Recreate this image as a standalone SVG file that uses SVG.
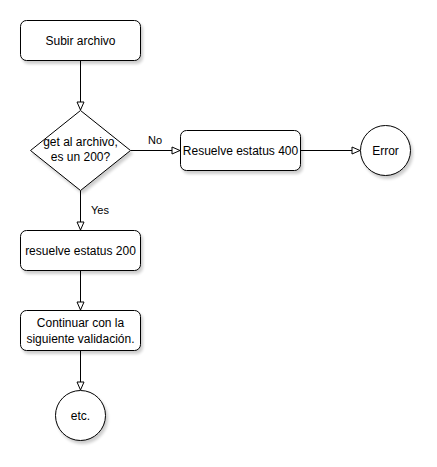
<svg xmlns="http://www.w3.org/2000/svg" width="437" height="467" viewBox="0 0 437 467">
<defs>
<filter id="sh" x="-20%" y="-20%" width="150%" height="150%">
<feGaussianBlur in="SourceAlpha" stdDeviation="1.5"/>
<feOffset dx="2" dy="3" result="b"/>
<feComponentTransfer><feFuncA type="linear" slope="0.2"/></feComponentTransfer>
<feMerge><feMergeNode/><feMergeNode in="SourceGraphic"/></feMerge>
</filter>
<marker id="arr" markerWidth="10" markerHeight="10" refX="9" refY="5" orient="auto" markerUnits="userSpaceOnUse">
<path d="M1,1.5 L9,5 L1,8.5 Z" fill="#fff" stroke="#000" stroke-width="1"/>
</marker>
</defs>
<style>
.n{fill:#fff;stroke:#000;stroke-width:1;filter:url(#sh)}
.t{font-family:"Liberation Sans",Arial,sans-serif;font-size:12px;fill:#000;text-anchor:middle}
.e{fill:none;stroke:#000;stroke-width:1;marker-end:url(#arr)}
.l{font-family:"Liberation Sans",Arial,sans-serif;font-size:11px;fill:#000;text-anchor:middle}
</style>
<rect width="437" height="467" fill="#fff"/>
<g id="connectors">
<path class="e" d="M80.5,60.5 L80.5,110"/>
<path class="e" d="M130.5,150.5 L180,150.5"/>
<path class="e" d="M300.5,150.5 L360,150.5"/>
<path class="e" d="M80.5,190.5 L80.5,230"/>
<path class="e" d="M80.5,270.5 L80.5,310"/>
<path class="e" d="M80.5,350.5 L80.5,390"/>
<text class="l" x="155" y="144">No</text>
<text class="l" x="100" y="214">Yes</text>
</g>
<g id="subir">
<rect class="n" x="20.5" y="20.5" width="120" height="40" rx="6"/>
<text class="t" x="80.5" y="44.5">Subir archivo</text>
</g>
<g id="decision">
<path class="n" d="M80.5,110.5 L130.5,150.5 L80.5,190.5 L30.5,150.5 Z"/>
<text class="t" x="80.5" y="146">get al archivo,</text>
<text class="t" x="80.5" y="161">es un 200?</text>
</g>
<g id="estatus400">
<rect class="n" x="180.5" y="130.5" width="120" height="40" rx="6"/>
<text class="t" x="240.5" y="154.5">Resuelve estatus 400</text>
</g>
<g id="error">
<circle class="n" cx="385.5" cy="150.5" r="25"/>
<text class="t" x="385.5" y="154.5">Error</text>
</g>
<g id="estatus200">
<rect class="n" x="20.5" y="230.5" width="120" height="40" rx="6"/>
<text class="t" x="80.5" y="254.5">resuelve estatus 200</text>
</g>
<g id="continuar">
<rect class="n" x="20.5" y="310.5" width="120" height="40" rx="6"/>
<text class="t" x="80.5" y="327">Continuar con la</text>
<text class="t" x="80.5" y="343">siguiente validación.</text>
</g>
<g id="etc">
<circle class="n" cx="80.5" cy="415.5" r="25"/>
<text class="t" x="80.5" y="419.5">etc.</text>
</g>
</svg>
